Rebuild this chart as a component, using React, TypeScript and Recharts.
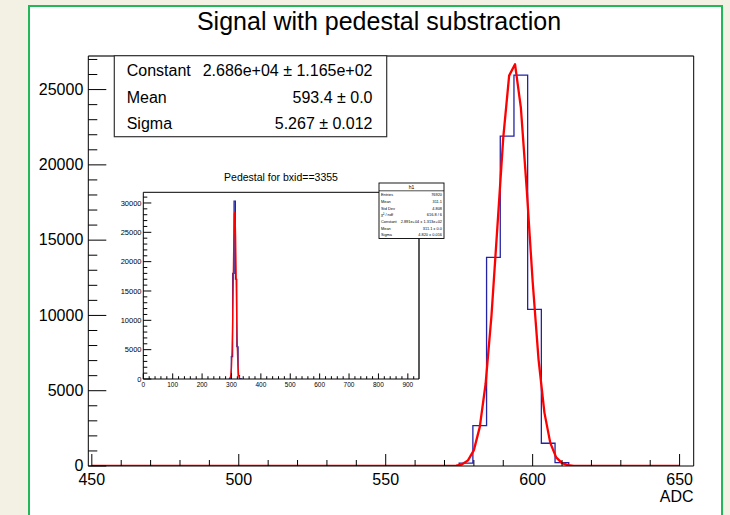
import React from 'react';
import { ComposedChart, Line, XAxis, YAxis, ReferenceLine } from 'recharts';

const FONT = '"Liberation Sans", Arial, Helvetica, sans-serif';

// ---------- Main chart data (Signal with pedestal substraction) ----------
const signalBinEdges = [570.34, 575.0, 579.66, 584.32, 588.98, 593.64, 598.3, 602.96, 607.62, 612.28, 616.94];
const signalBinCounts = [0, 190, 2680, 13860, 21910, 25960, 10400, 1510, 220, 0, 0];

const signalFitX = [450, 572, 574, 576, 578, 580, 582, 584, 586, 588, 590, 592, 594, 596, 598, 600, 602, 604, 606, 608, 610, 612, 614, 616, 650];
const signalFitY = [0, 7, 30, 115, 374, 1056, 2581, 5464, 10011, 15880, 21808, 25928, 26686, 23779, 18343, 12251, 7083, 3545, 1536, 576, 187, 53, 13, 3, 0];

const mainXDomain = [448.8, 654.8];
const mainYDomain = [0, 27230];
const mainXMajor = [450, 500, 550, 600, 650];
const mainYMajor = [0, 5000, 10000, 15000, 20000, 25000];

const fitStatsLabels = ['Constant', 'Mean', 'Sigma'];
const fitStatsValues = ['2.686e+04 \u00b1 1.165e+02', '593.4 \u00b1 0.0', '5.267 \u00b1 0.012'];

// ---------- Inset chart data (Pedestal for bxid==3355) ----------
const pedBinEdges = [290.1, 294.75, 299.4, 304.05, 308.7, 313.35, 318.0, 322.65, 327.3, 331.95, 336.6];
const pedBinCounts = [0, 200, 3800, 18000, 30340, 17000, 5500, 600, 30, 0, 0];

const pedFitX = [296, 298, 300, 302, 304, 306, 308, 310, 312, 314, 316, 318, 320, 322, 324, 326, 328];
const pedFitY = [214, 720, 2038, 4866, 9769, 16519, 23510, 28167, 28410, 24122, 17245, 10376, 5256, 2242, 805, 243, 60];

const pedXDomain = [0, 938];
const pedYDomain = [0, 31820];
const pedXMajor = [0, 100, 200, 300, 400, 500, 600, 700, 800, 900];
const pedYMajor = [0, 5000, 10000, 15000, 20000, 25000, 30000];

const pedStatsLabels = ['Entries', 'Mean', 'Std Dev', '\u03c7\u00b2 / ndf', 'Constant', 'Mean', 'Sigma'];
const pedStatsValues = ['76920', '311.1', '4.808', '616.8 / 6', '2.891e+04 \u00b1 1.313e+02', '311.1 \u00b1 0.0', '4.820 \u00b1 0.016'];

// ---------- helpers ----------
const range = (a: number, b: number, step: number) => {
  const out: number[] = [];
  for (let v = a; v <= b + 1e-9; v += step) out.push(Math.round(v * 1000) / 1000);
  return out;
};
const mainXTicks = range(450, 650, 10);
const mainYTicks = range(0, 27000, 1000);
const pedXTicks = range(0, 920, 20);
const pedYTicks = range(0, 31000, 1000);

const toPoints = (xs: number[], ys: number[]) => xs.map((x, i) => ({ x, y: ys[i] }));
const signalHist = toPoints(signalBinEdges, signalBinCounts);
const signalFit = toPoints(signalFitX, signalFitY);
const pedHist = toPoints(pedBinEdges, pedBinCounts);
const pedFit = toPoints(pedFitX, pedFitY);

const makeXTick = (majors: number[], majorLen: number, minorLen: number, fontSize: number, labelDy: number) =>
  (props: any) => {
    const { x, y, payload } = props;
    const v = payload.value;
    const isMajor = majors.includes(v);
    return (
      <g>
        <line x1={x} x2={x} y1={y} y2={y - (isMajor ? majorLen : minorLen)} stroke="#000" strokeWidth={1} />
        {isMajor && (
          <text x={x} y={y + labelDy} textAnchor="middle" fontSize={fontSize} fontFamily={FONT} fill="#000">
            {v}
          </text>
        )}
      </g>
    );
  };

const makeYTick = (majors: number[], majorLen: number, minorLen: number, fontSize: number, labelDx: number, labelDy: number) =>
  (props: any) => {
    const { x, y, payload } = props;
    const v = payload.value;
    const isMajor = majors.includes(v);
    return (
      <g>
        <line x1={x} x2={x + (isMajor ? majorLen : minorLen)} y1={y} y2={y} stroke="#000" strokeWidth={1} />
        {isMajor && (
          <text x={x - labelDx} y={y + labelDy} textAnchor="end" fontSize={fontSize} fontFamily={FONT} fill="#000">
            {v}
          </text>
        )}
      </g>
    );
  };

const MainXTick = makeXTick(mainXMajor, 12, 6, 16, 19);
const MainYTick = makeYTick(mainYMajor, 18, 9, 16, 5, 5.2);
const PedXTick = makeXTick(pedXMajor, 5.6, 2.8, 6.5, 8);
const PedYTick = makeYTick(pedYMajor, 8, 4, 7.5, 1.8, 2.7);

export default function App() {
  return (
    <div style={{ position: 'absolute', left: 0, top: 0, width: 730, height: 515, background: '#f3f0e4', overflow: 'hidden', fontFamily: FONT }}>
      <div
        style={{
          position: 'absolute', left: 27.5, top: 5, width: 695, height: 530,
          boxSizing: 'border-box', border: '2px solid #22b85a', background: '#ffffff',
        }}
      />
      {/* Main chart */}
      <div style={{ position: 'absolute', left: 0, top: 0 }}>
        <ComposedChart width={730} height={515} margin={{ top: 56, right: 36.3, bottom: 19, left: 28.3 }}>
          <XAxis
            type="number" dataKey="x" domain={mainXDomain} allowDataOverflow ticks={mainXTicks} interval={0}
            height={30} tickSize={0} tickMargin={0} tick={MainXTick} stroke="#000" axisLine={{ stroke: '#000', strokeWidth: 1 }}
          />
          <YAxis
            type="number" dataKey="y" domain={mainYDomain} allowDataOverflow ticks={mainYTicks} interval={0}
            width={60} tickSize={0} tickMargin={0} tick={MainYTick} axisLine={{ stroke: '#000', strokeWidth: 1 }}
          />
          <ReferenceLine y={mainYDomain[1]} stroke="#6f6f6f" strokeWidth={2} ifOverflow="visible" />
          <ReferenceLine x={mainXDomain[1]} stroke="#000" strokeWidth={1} ifOverflow="visible" />
          <Line data={signalHist} dataKey="y" type="stepAfter" stroke="#2323a6" strokeWidth={1.3} dot={false} isAnimationActive={false} />
          <Line data={signalFit} dataKey="y" type="linear" stroke="#ff0000" strokeWidth={2.3} dot={false} strokeLinejoin="round" isAnimationActive={false} />
        </ComposedChart>
      </div>
      {/* Main overlay texts */}
      <svg width={730} height={515} style={{ position: 'absolute', left: 0, top: 0, pointerEvents: 'none' }}>
        <text x={379} y={30} textAnchor="middle" fontSize={25} fontFamily={FONT} fill="#000">
          Signal with pedestal substraction
        </text>
        <rect x={114.3} y={55.7} width={272.4} height={81} fill="#fff" stroke="#333" strokeWidth={1.2} />
        {fitStatsLabels.map((lab, i) => (
          <g key={i}>
            <text x={126.7} y={76 + i * 26.7} fontSize={16} fontFamily={FONT} fill="#000">{lab}</text>
            <text x={372.5} y={76 + i * 26.7} fontSize={16} fontFamily={FONT} fill="#000" textAnchor="end">{fitStatsValues[i]}</text>
          </g>
        ))}
        <text x={693.5} y={501.5} textAnchor="end" fontSize={16} fontFamily={FONT} fill="#000">ADC</text>
      </svg>
      {/* Inset chart */}
      <div style={{ position: 'absolute', left: 100, top: 165 }}>
        <ComposedChart width={345} height={230} margin={{ top: 27.3, right: 26, bottom: 4, left: 13.3 }}>
          <XAxis
            type="number" dataKey="x" domain={pedXDomain} allowDataOverflow ticks={pedXTicks} interval={0}
            height={12} tickSize={0} tickMargin={0} tick={PedXTick} axisLine={{ stroke: '#000', strokeWidth: 1 }}
          />
          <YAxis
            type="number" dataKey="y" domain={pedYDomain} allowDataOverflow ticks={pedYTicks} interval={0}
            width={30} tickSize={0} tickMargin={0} tick={PedYTick} axisLine={{ stroke: '#000', strokeWidth: 1 }}
          />
          <ReferenceLine y={pedYDomain[1]} stroke="#000" strokeWidth={1} ifOverflow="visible" />
          <ReferenceLine x={pedXDomain[1]} stroke="#000" strokeWidth={1.3} ifOverflow="visible" />
          <Line data={pedHist} dataKey="y" type="stepAfter" stroke="#2323a6" strokeWidth={1.2} dot={false} isAnimationActive={false} />
          <Line data={pedFit} dataKey="y" type="linear" stroke="#ff0000" strokeWidth={1.4} dot={false} isAnimationActive={false} />
        </ComposedChart>
      </div>
      {/* Inset overlay texts */}
      <svg width={730} height={515} style={{ position: 'absolute', left: 0, top: 0, pointerEvents: 'none' }}>
        <text x={281} y={180.8} textAnchor="middle" fontSize={10.5} fontFamily={FONT} fill="#000">
          Pedestal for bxid==3355
        </text>
        <rect x={379} y={183} width={65} height={55.5} fill="#fff" stroke="#000" strokeWidth={0.9} />
        <line x1={379} x2={444} y1={190.8} y2={190.8} stroke="#000" strokeWidth={0.7} />
        <text x={411.5} y={189.2} textAnchor="middle" fontSize={5} fontFamily={FONT} fill="#000">h1</text>
        {pedStatsLabels.map((lab, i) => (
          <g key={i}>
            <text x={381} y={196.2 + i * 6.7} fontSize={3.9} fontFamily={FONT} fill="#000">{lab}</text>
            <text x={442} y={196.2 + i * 6.7} fontSize={3.9} fontFamily={FONT} fill="#000" textAnchor="end">{pedStatsValues[i]}</text>
          </g>
        ))}
      </svg>
    </div>
  );
}
